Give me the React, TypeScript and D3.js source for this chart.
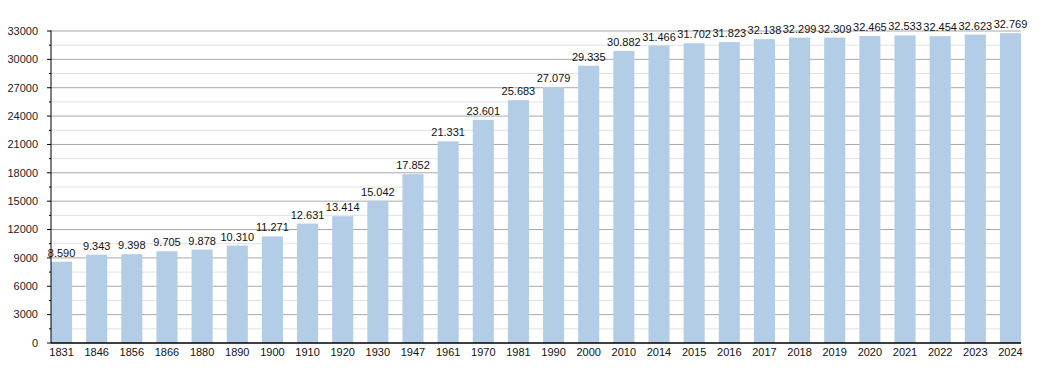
import React from "react";
import * as d3 from "d3";

const years = ["1831", "1846", "1856", "1866", "1880", "1890", "1900", "1910", "1920", "1930", "1947", "1961", "1970", "1981", "1990", "2000", "2010", "2014", "2015", "2016", "2017", "2018", "2019", "2020", "2021", "2022", "2023", "2024"];
const population = [8590, 9343, 9398, 9705, 9878, 10310, 11271, 12631, 13414, 15042, 17852, 21331, 23601, 25683, 27079, 29335, 30882, 31466, 31702, 31823, 32138, 32299, 32309, 32465, 32533, 32454, 32623, 32769];
const yTicks = [0, 3000, 6000, 9000, 12000, 15000, 18000, 21000, 24000, 27000, 30000, 33000];
const yMinor = [1500, 4500, 7500, 10500, 13500, 16500, 19500, 22500, 25500, 28500, 31500];

const W = 1050;
const H = 373;
const left = 51;
const right = 1021;
const top = 31;
const bottom = 343;

const fmt = (v: number) => d3.format(",")(v).replace(/,/g, ".");

const App = () => {
  const x = d3.scaleBand<string>().domain(years).range([left, right]).paddingInner(0.4).paddingOuter(0);
  const y = d3.scaleLinear().domain([0, 33000]).range([bottom, top]);
  const font = "'Liberation Sans', Arial, sans-serif";

  return (
    <svg width={W} height={H} style={{ position: "absolute", left: 0, top: 0 }} fontFamily={font}>
      <rect width={W} height={H} fill="#fff" />
      {/* minor grid */}
      {yMinor.map(v => (
        <g key={"m" + v}>
          <line x1={left} x2={right} y1={y(v)} y2={y(v)} stroke="#e2e2e2" />
          <line x1={left - 2} x2={left} y1={y(v)} y2={y(v)} stroke="#000" />
        </g>
      ))}
      {/* major grid */}
      {yTicks.map(v => (
        <g key={"t" + v}>
          {v > 0 && <line x1={left} x2={right} y1={y(v)} y2={y(v)} stroke="#a8a8a8" />}
          <line x1={left - 4} x2={left} y1={y(v)} y2={y(v)} stroke="#000" />
          <text x={38} y={y(v)} dy="0.35em" textAnchor="end" fontSize={11} fill="#222">{v}</text>
        </g>
      ))}
      {/* bars */}
      {years.map((yr, i) => (
        <g key={yr}>
          <rect x={x(yr)} y={y(population[i])} width={x.bandwidth()} height={bottom - y(population[i])} fill="#b3cde6" />
          <text x={(x(yr) as number) + x.bandwidth() / 2} y={y(population[i]) - 5} textAnchor="middle" fontSize={11} fill="#111">{fmt(population[i])}</text>
          <text x={(x(yr) as number) + x.bandwidth() / 2} y={355.5} textAnchor="middle" fontSize={11} fill="#111">{yr}</text>
        </g>
      ))}
      {/* axes */}
      <line x1={left} x2={left} y1={top - 0.5} y2={bottom} stroke="#000" />
      <line x1={left} x2={right} y1={bottom} y2={bottom} stroke="#000" strokeWidth={1.5} />
    </svg>
  );
};

export default App;
